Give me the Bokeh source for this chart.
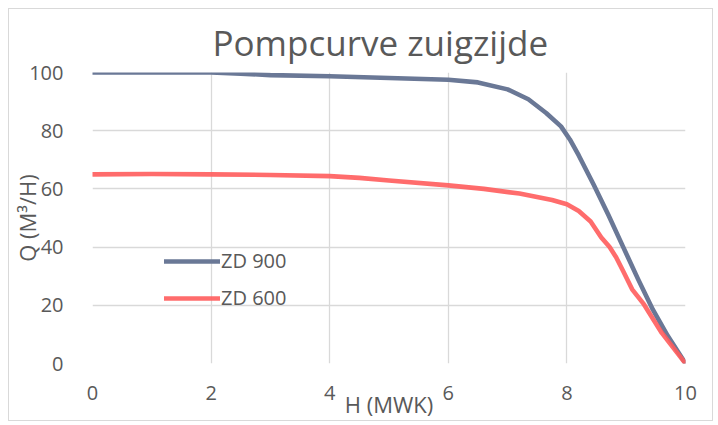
from bokeh.plotting import figure
from bokeh.models import Legend, LegendItem, FixedTicker, Range1d
from bokeh.embed import file_html
from bokeh.resources import INLINE

# ---- data ----
zd900_h = [0, 1, 2, 2.5, 3, 4, 5, 6, 6.5, 7, 7.35, 7.65, 7.9, 8.05, 8.2, 8.45, 8.7, 8.95, 9.2, 9.45, 9.7, 10]
zd900_q = [100, 100, 100, 99.6, 99.1, 98.7, 98.1, 97.5, 96.6, 94.2, 90.8, 86.1, 81.5, 77, 71.5, 61.5, 51, 40, 29, 18.5, 9.5, 0]

zd600_h = [0, 1, 2, 3, 4, 4.5, 5, 6, 6.6, 7.2, 7.75, 8, 8.2, 8.4, 8.58, 8.72, 8.83, 8.95, 9.1, 9.3, 9.6, 10]
zd600_q = [65, 65.1, 65, 64.8, 64.4, 63.8, 62.9, 61.2, 60, 58.4, 56.2, 54.7, 52.4, 48.8, 43.3, 40, 36.5, 31.7, 25.5, 20.3, 10.5, 0]

x_ticks = [0, 2, 4, 6, 8, 10]
y_ticks = [0, 20, 40, 60, 80, 100]

title_text = "Pompcurve zuigzijde"
x_title = "H (MWK)"
y_title = "Q (M³/H)"
series_names = ["ZD 900", "ZD 600"]

FONT = "Open Sans"
TXT = "#595959"
GRID = "#d9d9d9"
BLUE = "#6A7896"
RED = "#FF5C5C"

p = figure(width=705, height=413, output_backend="svg", toolbar_location=None,
           x_range=Range1d(0, 10), y_range=Range1d(0, 100),
           min_border_left=83, min_border_right=29, min_border_top=63, min_border_bottom=59,
           title=title_text)
p.margin = (8, 0, 0, 8)
p.styles = {"border": "1px solid #d9d9d9"}
p.outline_line_color = None
p.background_fill_color = "white"
p.border_fill_color = "white"

p.title.text_font = FONT
p.title.text_font_size = "35px"
p.title.text_font_style = "normal"
p.title.text_color = TXT
p.title.align = "left"
p.title.offset = 120
p.title.standoff = 13

for ax in (p.xaxis[0], p.yaxis[0]):
    ax.axis_line_color = None
    ax.major_tick_line_color = None
    ax.minor_tick_line_color = None
    ax.major_label_text_font = FONT
    ax.major_label_text_font_size = "20px"
    ax.major_label_text_color = TXT
    ax.axis_label_text_font = FONT
    ax.axis_label_text_font_size = "22px"
    ax.axis_label_text_font_style = "normal"
    ax.axis_label_text_color = TXT

p.xaxis[0].ticker = FixedTicker(ticks=x_ticks)
p.yaxis[0].ticker = FixedTicker(ticks=y_ticks)
p.xaxis[0].major_label_standoff = 16
p.yaxis[0].major_label_standoff = 23
p.xaxis[0].axis_label = x_title
p.yaxis[0].axis_label = y_title
p.xaxis[0].axis_label_standoff = -14
p.yaxis[0].axis_label_standoff = -16

p.xgrid[0].ticker = FixedTicker(ticks=x_ticks)
p.ygrid[0].ticker = FixedTicker(ticks=y_ticks)
p.xgrid.grid_line_color = GRID
p.ygrid.grid_line_color = GRID
p.xgrid.grid_line_width = 1.3
p.ygrid.grid_line_width = 1.3

r1 = p.line(zd900_h, zd900_q, line_color=BLUE, line_width=4.6, line_cap="round", line_join="round")
r2 = p.line(zd600_h, zd600_q, line_color=RED, line_width=4.6, line_cap="round", line_join="round", line_alpha=0.9)

legend = Legend(items=[LegendItem(label=series_names[0], renderers=[r1]),
                       LegendItem(label=series_names[1], renderers=[r2])],
                location=(72, 52), orientation="vertical")
legend.glyph_width = 56
legend.glyph_height = 20
legend.label_height = 20
legend.label_standoff = 1
legend.spacing = 10
legend.padding = 0
legend.margin = 0
legend.border_line_color = None
legend.background_fill_alpha = 0
legend.label_text_font = FONT
legend.label_text_font_size = "20px"
legend.label_text_color = TXT
p.add_layout(legend)

open("out.html", "w").write(file_html(p, INLINE))
